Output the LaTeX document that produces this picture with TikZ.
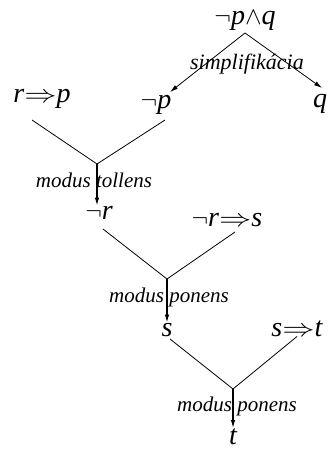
\documentclass[tikz,border=0pt]{standalone}
\usepackage{fontspec}
\setmainfont{Liberation Serif}
\usetikzlibrary{arrows.meta}

\newcommand{\impl}{\scalebox{1.3}[1]{$\Rightarrow$}}
\newcommand{\conj}{$\wedge$}
\newcommand{\ngt}{$\neg$}

\begin{document}
\begin{tikzpicture}[x=1pt,y=-1pt,>={Latex[length=8pt,width=4.5pt]},
  formula/.style={font=\fontsize{28}{30}\selectfont\itshape,anchor=base,inner sep=0pt},
  rule/.style={font=\fontsize{21}{23}\selectfont\itshape,inner sep=0pt},
  branch/.style={line width=0.8pt},
  step arrow/.style={->,line width=1.2pt}]
  \useasboundingbox (0,0) rectangle (329,449);

  % formulas
  \node[formula] (pq)  at (245,25)  {\ngt p\conj q};
  \node[formula] (rp)  at (42,103)  {r\impl p};
  \node[formula] (np)  at (156,109) {\ngt p};
  \node[formula] (q)   at (320,108) {q};
  \node[formula] (nr)  at (99,219)  {\ngt r};
  \node[formula] (nrs) at (227,226) {\ngt r\impl s};
  \node[formula] (s)   at (167,336) {s};
  \node[formula] (st)  at (297,336) {s\impl t};
  \node[formula] (t)   at (233,444) {t};

  % junctions
  \coordinate (top) at (245,33);
  \coordinate (j1) at (97,164);
  \coordinate (j2) at (167,279);
  \coordinate (j3) at (233,389);

  % simplifikacia
  \draw[->,line width=0.8pt] (top) -- ([xshift=14pt,yshift=17pt]np.base);
  \draw[->,line width=0.8pt] (top) -- ([xshift=2pt,yshift=20pt]q.base);
  \node[rule,font=\fontsize{22}{24}\selectfont\itshape] (simp) at (247,64) {simplifikácia};

  % modus tollens
  \draw[branch] ([xshift=-10pt,yshift=-17pt]rp.base) -- (j1);
  \draw[branch] ([xshift=9pt,yshift=-11pt]np.base) -- (j1);
  \node[rule] (mt) at (94,180) {modus tollens};
  \draw[step arrow] (j1) -- ([xshift=-2pt]nr.north);

  % modus ponens
  \draw[branch] ([xshift=4pt,yshift=-10pt]nr.base) -- (j2);
  \draw[branch] ([xshift=8pt,yshift=-6pt]nrs.base) -- (j2);
  \node[rule] (mp1) at (169,297) {modus ponens};
  \draw[step arrow] (j2) -- (s.north);

  % modus ponens
  \draw[branch] ([xshift=3pt,yshift=-3pt]s.base) -- (j3);
  \draw[branch] (st.south) -- (j3);
  \node[rule] (mp2) at (237,406) {modus ponens};
  \draw[step arrow] (j3) -- (t.north);
\end{tikzpicture}
\end{document}
